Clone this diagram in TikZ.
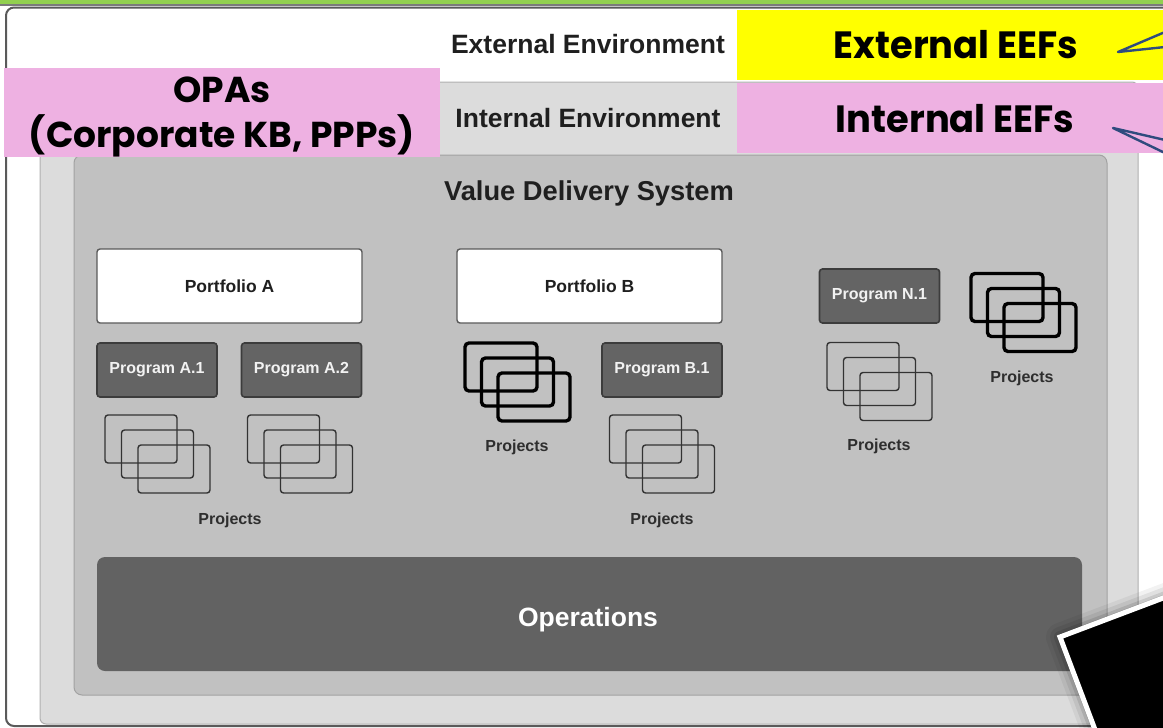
\documentclass[tikz,border=0pt]{standalone}
\usepackage{fontspec}
\newfontfamily\gfont{Liberation Sans}
\newfontfamily\pfont{Poppins}
\definecolor{topgreen}{HTML}{92D050}
\definecolor{framegray}{HTML}{5A5A5A}
\definecolor{intgray}{HTML}{DCDCDC}
\definecolor{intline}{HTML}{B0B0B0}
\definecolor{vdsgray}{HTML}{C1C1C1}
\definecolor{vdsline}{HTML}{A2A2A2}
\definecolor{opgray}{HTML}{626262}
\definecolor{proggray}{HTML}{646464}
\definecolor{progline}{HTML}{3C3C3C}
\definecolor{yel}{HTML}{FFFF00}
\definecolor{pink}{HTML}{EEB1E2}
\definecolor{callblue}{HTML}{2F4B7E}
\tikzset{
  envlabel/.style={font=\gfont\bfseries\fontsize{26.5}{29}\selectfont, text=black!88, anchor=base, inner sep=0pt},
  portbox/.style={draw=framegray, line width=1.4pt, fill=white, rounded corners=3pt,
    minimum width=265pt, minimum height=74pt, inner sep=0pt,
    font=\gfont\bfseries\fontsize{17.5}{19}\selectfont, text=black!88},
  progbox/.style={draw=progline, line width=1.6pt, fill=proggray, rounded corners=3pt,
    minimum width=120pt, minimum height=54pt, inner sep=0pt,
    font=\gfont\bfseries\fontsize{16}{18}\selectfont, text=white!95!black},
  projthin/.style={draw=black!80, line width=1.4pt, rounded corners=3pt,
    minimum width=72pt, minimum height=48pt, inner sep=0pt},
  projthick/.style={draw=black, line width=3.4pt, rounded corners=4pt,
    minimum width=72pt, minimum height=48pt, inner sep=0pt},
  projlabel/.style={font=\gfont\bfseries\fontsize{16}{18}\selectfont, text=black!82},
  eeflabel/.style={font=\pfont\bfseries\fontsize{38}{44}\selectfont, text=black, inner sep=0pt, anchor=base},
  callout/.style={draw=callblue, line width=2.4pt, line cap=round, line join=round},
  pics/projstack/.style={code={
    \node[#1] (-a) at (0,0) {};
    \node[#1] (-b) at (16.5,15) {};
    \node[#1] (-c) at (33,30) {};
  }}
}
\begin{document}
\begin{tikzpicture}[x=1pt,y=-1pt]
\useasboundingbox (0,0) rectangle (1163,728);
% top strips
\fill[topgreen] (0,0) rectangle (1163,3.5);
\fill[framegray!80] (0,3.5) rectangle (1163,5.5);
% outer frame
\draw[framegray, line width=2pt, fill=white, rounded corners=8pt] (6,7.5) rectangle (1185,726);
% internal environment
\draw[intline, line width=1pt, fill=intgray, rounded corners=6pt] (40,82) rectangle (1138,724);
% value delivery system
\draw[vdsline, line width=1pt, fill=vdsgray, rounded corners=8pt] (74,155) rectangle (1107,695);
% operations
\node[fill=opgray, rounded corners=8pt, minimum width=985pt, minimum height=114pt, inner sep=0pt] (ops) at (589.5,614) {};
\node[font=\gfont\bfseries\fontsize{26.5}{28}\selectfont, text=white, anchor=base, inner sep=0pt] (opstext) at (588,626) {Operations};

% environment labels
\node[envlabel] (ext) at (588,53) {External Environment};
\node[envlabel] (int) at (588,127) {Internal Environment};
\node[envlabel, font=\gfont\bfseries\fontsize{27.3}{29}\selectfont] (vds) at (589,200) {Value Delivery System};

% portfolios and programs
\node[portbox] (pfa) at (229.5,286) {Portfolio A};
\node[portbox] (pfb) at (589.5,286) {Portfolio B};
\node[progbox] (pga1) at (157,370) {Program A.1};
\node[progbox] (pga2) at (301.5,370) {Program A.2};
\node[progbox] (pgb1) at (662,370) {Program B.1};
\node[progbox] (pgn1) at (879.5,296) {Program N.1};

% project stacks
\pic (sa1) at (141,439) {projstack=projthin};
\pic (sa2) at (283.5,439) {projstack=projthin};
\pic (sb) at (501,367) {projstack=projthick};
\pic (sb1) at (645.5,439) {projstack=projthin};
\pic (sn1) at (863,366.5) {projstack=projthin};
\pic (sn) at (1007,297.5) {projstack=projthick};

\node[projlabel] (la) at (230,520) {Projects};
\node[projlabel] (lb) at (517,447) {Projects};
\node[projlabel] (lb1) at (662,520) {Projects};
\node[projlabel] (ln1) at (879,446) {Projects};
\node[projlabel] (ln) at (1022,378) {Projects};

% highlight boxes
\node[fill=yel, minimum width=426pt, minimum height=70pt, inner sep=0pt] (extbox) at (950,45) {};
\node[eeflabel] (exteef) at (956,58) {\scalebox{0.97}[1]{External EEFs}};
\node[fill=pink, minimum width=426pt, minimum height=70pt, inner sep=0pt] (intbox) at (950,118) {};
\node[eeflabel] (inteef) at (955,132) {\scalebox{0.97}[1]{Internal EEFs}};
\node[fill=pink, minimum width=436pt, minimum height=89pt, inner sep=0pt] (opabox) at (222,112.5) {};
\node[eeflabel, font=\pfont\bfseries\fontsize{36}{44}\selectfont] (opa) at (222,102) {OPAs};
\node[eeflabel, font=\pfont\bfseries\fontsize{36}{44}\selectfont] (opa2) at (222,147) {(Corporate KB, PPPs)};

% callouts
\coordinate (exttip) at (1118,52);
\coordinate (extu) at (1165,32);
\coordinate (extl) at (1165,47);
\draw[callout] (extu) -- (exttip) -- (extl);
\coordinate (inttip) at (1113,128);
\coordinate (intu) at (1165,140);
\coordinate (intl) at (1165,153);
\draw[callout] (intu) -- (inttip) -- (intl);

% black tilted card with shadow
\begin{scope}[shift={(1060,637)}, rotate=20.7]
  \foreach \s/\o in {14/0.05,10/0.07,6/0.1,3/0.14}{
    \fill[black, opacity=\o, rounded corners=\s pt] (-\s,-\s) rectangle (220+\s,220+\s);
  }
  \draw[white, line width=5pt, fill=black] (0,0) rectangle (220,220);
\end{scope}
\end{tikzpicture}
\end{document}
